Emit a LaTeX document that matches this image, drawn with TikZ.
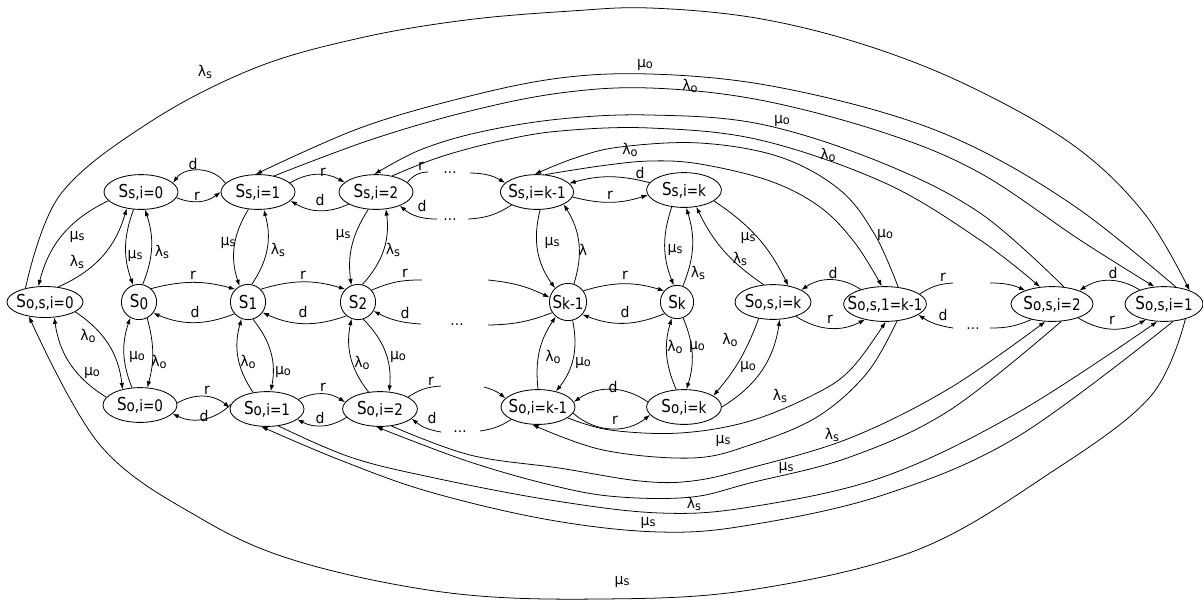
\documentclass[tikz,border=0pt]{standalone}
\usepackage{fontspec}
\setmainfont{DejaVu Sans}[FakeStretch=0.85]
\newfontfamily\labfont{DejaVu Sans}[FakeStretch=0.95]
\usetikzlibrary{arrows.meta,shapes.geometric}
\newcommand{\stn}[1]{\makebox[0pt]{S\raisebox{-0.06em}{\fontsize{11.3pt}{12pt}\selectfont #1}}}
\newcommand{\lbx}[2]{#1\raisebox{-0.1em}{\fontsize{8.5pt}{9pt}\selectfont #2}}
\begin{document}
\begin{tikzpicture}[x=0.025cm,y=-0.025cm,
  el/.style={draw, ellipse, inner sep=0pt, minimum height=0.87cm, line width=0.6pt, font=\fontsize{12.7pt}{13pt}\selectfont},
  cr/.style={draw, circle, inner sep=0pt, line width=0.6pt, font=\fontsize{12.7pt}{13pt}\selectfont},
  ar/.style={line width=0.55pt, -{Latex[length=4.5pt,width=3.2pt]}},
  ln/.style={line width=0.55pt},
  lab/.style={inner sep=0pt, font=\labfont\fontsize{10.5pt}{11pt}\selectfont},
  dts/.style={inner sep=0pt, font=\labfont\fontsize{10pt}{11pt}\selectfont}
]
\useasboundingbox (0,0) rectangle (1203,601);
% nodes
\node[el,minimum width=1.85cm] (ss0) at (141,192) {\stn{s,i=0}};
\node[el,minimum width=1.85cm] (ss1) at (258,192) {\stn{s,i=1}};
\node[el,minimum width=1.85cm] (ss2) at (376,192) {\stn{s,i=2}};
\node[el,minimum width=1.83cm] (ssk1) at (537,192) {\stn{s,i=k-1}};
\node[el,minimum width=1.87cm] (ssk) at (684,190) {\stn{s,i=k}};
\node[el,minimum width=1.9cm,minimum height=0.775cm] (sos0) at (45,302) {\stn{o,s,i=0}};
\node[cr,minimum size=0.88cm] (s0) at (139,302) {\stn{0}};
\node[cr,minimum size=0.88cm] (s1) at (248,302) {\stn{1}};
\node[cr,minimum size=0.88cm] (s2) at (358,302) {\stn{2}};
\node[cr,minimum size=0.93cm] (sk1) at (568,302) {\stn{k-1}};
\node[cr,minimum size=0.83cm] (sk) at (677,302) {\stn{k}};
\node[el,minimum width=1.9cm] (sosk) at (773,302) {\stn{o,s,i=k}};
\node[el,minimum width=2.07cm] (sosk1) at (885,304) {\stn{o,s,1=k-1}};
\node[el,minimum width=2.05cm] (sos2) at (1052,304) {\stn{o,s,i=2}};
\node[el,minimum width=1.95cm] (sos1) at (1164,304) {\stn{o,s,i=1}};
\node[el,minimum width=1.85cm] (so0) at (140,405) {\stn{o,i=0}};
\node[el,minimum width=1.85cm] (so1) at (267,409) {\stn{o,i=1}};
\node[el,minimum width=1.87cm] (so2) at (380,409) {\stn{o,i=2}};
\node[el,minimum width=1.85cm] (sok1) at (538,407) {\stn{o,i=k-1}};
\node[el,minimum width=1.87cm] (sok) at (684,407) {\stn{o,i=k}};
% top row
\draw[ar] (ss1.165) to[bend right=55] (ss0.16);
\draw[ar] (ss0.-9) to[bend right=30] (ss1.180);
\draw[ar] (ss1.16) to[bend left=30] (ss2.163);
\draw[ar] (ss2.204) to[bend left=28] (ss1.-15);
\coordinate (t1) at (428,172); \coordinate (t2) at (470,173);
\draw[ln] (ss2.17) to[bend left=25] (t1);
\draw[ar] (t2) to[bend left=15] (ssk1.164);
\coordinate (t3) at (468,219); \coordinate (t4) at (437,219);
\draw[ln] (ssk1.207) to[bend left=15] (t3);
\draw[ar] (t4) to[bend left=20] (ss2.-30);
\draw[ar] (ssk.168) to[bend right=15] (ssk1.15);
\draw[ar] (ssk1.-8) to[bend right=16] (ssk.188);
% middle row
\draw[ar] (s0.48) to[bend left=15] (s1.135);
\draw[ar] (s1.221) to[bend left=22] (s0.-38);
\draw[ar] (s1.45) to[bend left=17] (s2.135);
\draw[ar] (s2.230) to[bend left=22] (s1.-36);
\coordinate (m1) at (422,280); \coordinate (m2) at (488,280);
\draw[ln] (s2.41) to[bend left=12] (m1);
\draw[ar] (m2) to[bend left=10] (sk1.166);
\coordinate (m3) at (488,325); \coordinate (m4) at (421,324);
\draw[ln] (sk1.214) to[bend left=10] (m3);
\draw[ar] (m4) to[bend left=12] (s2.-30);
\draw[ar] (sk1.36) to[bend left=17] (sk.139);
\draw[ar] (sk.223) to[bend left=22] (sk1.-41);
\draw[ar] (sosk1.149) to[bend right=34] (sosk.23);
\draw[ar] (sosk.-32) to[bend right=30] (sosk1.218);
\coordinate (n1) at (953,283); \coordinate (n2) at (990,283);
\draw[ln] (sosk1.16) to[bend left=15] (n1);
\draw[ar] (n2) to[bend left=12] (sos2.153);
\coordinate (n3) at (990,328); \coordinate (n4) at (953,328);
\draw[ln] (sos2.217) to[bend left=12] (n3);
\draw[ar] (n4) to[bend left=12] (sosk1.-18);
\draw[ar] (sos1.150) to[bend right=33] (sos2.26);
\draw[ar] (sos2.-28) to[bend right=30] (sos1.221);
% bottom row
\draw[ar] (so0.3) to[bend left=35] (so1.178);
\draw[ar] (so1.173) to[bend left=35] (so0.-15);
\draw[ar] (so1.17) to[bend left=30] (so2.169);
\draw[ar] (so2.194) to[bend left=30] (so1.-19);
\coordinate (b1) at (441,386); \coordinate (b2) at (484,387);
\draw[ln] (so2.23) to[bend left=15] (b1);
\draw[ar] (b2) to[bend left=12] (sok1.165);
\coordinate (b3) at (480,431); \coordinate (b4) at (441,432);
\draw[ln] (sok1.205) to[bend left=12] (b3);
\draw[ar] (b4) to[bend left=15] (so2.-17);
\draw[ar] (sok.172) to[bend right=35] (sok1.8);
\draw[ar] (sok1.-10) to[bend right=40] (sok.-167);
% verticals
\draw[ar] (ss0.247) to[bend right=20] (s0.109);
\draw[ar] (s0.78) to[bend right=20] (ss0.283);
\draw[ar] (so0.115) to[bend left=20] (s0.241);
\draw[ar] (s0.297) to[bend left=15] (so0.67);
\draw[ar] (ss1.241) to[bend right=25] (s1.118);
\draw[ar] (s1.78) to[bend right=25] (ss1.288);
\draw[ar] (so1.130) to[bend left=25] (s1.249);
\draw[ar] (s1.-74) to[bend left=25] (so1.78);
\draw[ar] (ss2.246) to[bend right=20] (s2.112);
\draw[ar] (s2.76) to[bend right=25] (ss2.-60);
\draw[ar] (so2.124) to[bend left=25] (s2.249);
\draw[ar] (s2.-73) to[bend left=25] (so2.62);
\draw[ar] (ssk1.280) to[bend right=25] (sk1.133);
\draw[ar] (sk1.72) to[bend right=25] (ssk1.-25);
\draw[ar] (sok1.90) to[bend left=20] (sk1.230);
\draw[ar] (sk1.-76) to[bend left=25] (sok1.41);
\draw[ar] (ssk.234) to[bend right=20] (sk.101);
\draw[ar] (sk.70) to[bend right=20] (ssk.-83);
\draw[ar] (sok.114) to[bend left=20] (sk.252);
\draw[ar] (sk.-69) to[bend left=20] (sok.82);
% diagonals
\draw[ar] (ss0.195) to[bend right=25] (sos0.113);
\draw[ar] (sos0.49) to[bend right=25] (ss0.229);
\draw[ar] (sos0.-18) to[bend left=25] (so0.138);
\draw[ar] (so0.167) to[bend left=25] (sos0.-59);
\draw[ar] (ssk.-20) to[bend left=15] (sosk.47);
\draw[ar] (sosk.118) to[bend left=15] (ssk.-54);
\draw[ar] (sosk.229) to[bend left=10] (sok.21);
\draw[ar] (sok.0) to[bend right=25] (sosk.-69);
% long arcs top
\draw[ar] plot[smooth, tension=0.6] coordinates {(sos0.145) (60,195) (150,122) (255,68) (360,38) (466,20) (571,11) (650,8) (756,18) (862,44) (967,85) (1073,145) (1144,213) (sos1.28)};
\draw[ar] plot[smooth, tension=0.6] coordinates {(sos1.55) (1080,210) (980,150) (885,113) (760,84) (650,74) (560,78) (466,97) (360,128) (ss1.97)};
\draw[ar] plot[smooth, tension=0.6] coordinates {(ss1.45) (370,140) (466,112) (560,93) (650,88) (760,100) (885,133) (980,173) (1080,240) (sos1.119)};
\draw[ar] plot[smooth, tension=0.6] coordinates {(sos2.55) (980,213) (880,162) (760,124) (650,115) (560,119) (480,132) (420,150) (ss2.95)};
\draw[ar] plot[smooth, tension=0.6] coordinates {(ss2.45) (440,157) (500,141) (560,131) (650,128) (760,140) (885,183) (980,240) (sos2.125)};
\draw[ar] plot[smooth, tension=0.6] coordinates {(sosk1.52) (875,235) (840,190) (780,157) (700,143) (620,147) (575,158) (ssk1.97)};
\draw[ar] plot[smooth, tension=0.6] coordinates {(ssk1.65) (600,166) (650,161) (700,164) (770,181) (820,207) (855,243) (sosk1.100)};
% long arcs bottom
\draw[ar] plot[smooth, tension=0.6] coordinates {(sos1.-35) (1150,397) (1050,473) (917,550) (750,590) (600,599) (450,593) (300,562) (200,518) (100,445) (sos0.222)};
\draw[ar] plot[smooth, tension=0.6] coordinates {(sok1.-20) (610,430) (680,433) (750,421) (817,393) (852,368) (sosk1.-88)};
\draw[ar] plot[smooth, tension=0.6] coordinates {(sosk1.-55) (867,373) (817,417) (750,445) (692,458) (603,450) (sok1.252)};
\draw[ar] plot[smooth, tension=0.6] coordinates {(so2.-56) (470,455) (559,468) (640,481) (692,481) (750,468) (850,438) (950,388) (sos2.249)};
\draw[ar] plot[smooth, tension=0.6] coordinates {(sos2.-62) (950,410) (850,457) (750,483) (692,497) (620,497) (559,487) (470,462) (so2.258)};
\draw[ar] plot[smooth, tension=0.6] coordinates {(so1.-56) (350,457) (430,477) (550,500) (660,513) (750,507) (883,477) (1017,413) (sos1.249)};
\draw[ar] plot[smooth, tension=0.6] coordinates {(sos1.-62) (1017,437) (883,495) (750,525) (660,532) (550,520) (430,492) (340,460) (so1.252)};
% labels
\foreach \x/\y/\t [count=\i] in {
 193/164/d, 197/196/r, 323/172/r, 320/200/d, 421/166/r, 422/206/d, 640/173/d, 610/195/r,
 193/275/r, 195/312/d, 303/275/r, 303/312/d, 405/273/r, 405/313/d, 625/275/r, 625/312/d,
 833/273/d, 830/319/r, 943/277/r, 943/315/d, 1113/273/d, 1112/320/r,
 207/390/r, 204/416/d, 323/387/r, 320/418/d, 431/381/r, 432/418/d, 613/387/d, 615/420/r,
 135/256/{\lbx{μ}{s}}, 162/252/{\lbx{λ}{s}}, 137/357/{\lbx{μ}{o}}, 159/362/{\lbx{λ}{o}},
 228/243/{\lbx{μ}{s}}, 278/250/{\lbx{λ}{s}}, 248/362/{\lbx{λ}{o}}, 283/372/{\lbx{μ}{o}},
 343/235/{\lbx{μ}{s}}, 393/250/{\lbx{λ}{s}}, 362/363/{\lbx{λ}{o}}, 398/357/{\lbx{μ}{o}},
 552/243/{\lbx{μ}{s}}, 583/250/{λ}, 553/357/{\lbx{λ}{o}}, 583/363/{\lbx{μ}{o}},
 675/250/{\lbx{μ}{s}}, 698/273/{\lbx{λ}{s}}, 675/347/{\lbx{λ}{o}}, 697/347/{\lbx{μ}{o}},
 77/237/{\lbx{μ}{s}}, 77/262/{\lbx{λ}{s}}, 88/336/{\lbx{λ}{o}}, 92/373/{\lbx{μ}{o}},
 748/238/{\lbx{μ}{s}}, 740/259/{\lbx{λ}{s}}, 730/340/{\lbx{λ}{o}}, 748/367/{\lbx{μ}{o}},
 205/72/{\lbx{λ}{s}}, 645/65/{\lbx{μ}{o}}, 690/86/{\lbx{λ}{o}}, 782/121/{\lbx{μ}{o}},
 828/155/{\lbx{λ}{o}}, 630/150/{\lbx{λ}{o}}, 885/235/{\lbx{μ}{o}},
 780/396/{\lbx{λ}{s}}, 723/441/{\lbx{μ}{s}}, 832/435/{\lbx{λ}{s}}, 786/468/{\lbx{μ}{s}},
 694/504/{\lbx{λ}{s}}, 648/523/{\lbx{μ}{s}}, 622/582/{\lbx{μ}{s}}}
 {\node[lab] (l\i) at (\x,\y) {\t};}
% dots
\node[dts] (dt1) at (450,173) {…};
\node[dts] (dt2) at (450,220) {…};
\node[dts] (dt3) at (457,325) {…};
\node[dts] (dt4) at (460,432) {…};
\node[dts] (dt5) at (973,329) {…};
\end{tikzpicture}
\end{document}
